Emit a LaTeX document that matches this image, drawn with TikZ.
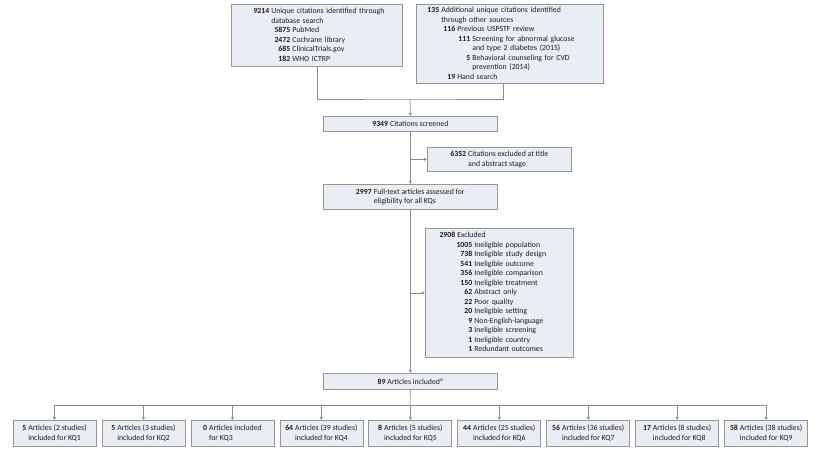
\documentclass[tikz,border=0pt]{standalone}
\usepackage{fontspec}
\setmainfont{Carlito}
\usetikzlibrary{arrows.meta}
\definecolor{boxfill}{RGB}{232,238,243}
\definecolor{boxline}{RGB}{150,150,150}
\definecolor{conline}{RGB}{140,140,140}
\definecolor{txt}{RGB}{30,28,29}
\newcommand{\nm}[1]{\textbf{#1}}
\newcommand{\lvl}[3]{\makebox[#1][r]{\nm{#2}}\hspace{2pt}#3}
\newcommand{\twol}[3]{\begin{tabular}{@{}r@{\hspace{2pt}}l@{}}\nm{#1} & #2\\ & #3\end{tabular}}
\begin{document}
\begin{tikzpicture}[x=1pt,y=-1pt,
  box/.style={draw=boxline, fill=boxfill, line width=0.7pt, inner sep=0pt, anchor=north west,
    text=txt, font=\fontsize{7.8}{9.5}\selectfont},
  lbox/.style={box, align=left},
  cbox/.style={box, align=center},
  conn/.style={draw=conline, line width=0.7pt},
  arr/.style={conn, -{Triangle[length=2.8pt,width=2.6pt]}}]
\useasboundingbox (0,0) rectangle (824,455);
% top boxes
\node[lbox, minimum width=171pt, minimum height=62pt, text width=171pt] (db) at (231,4)
  {\begin{tabular}{@{}l@{}}
  \lvl{38pt}{9214}{Unique citations identified through}\\
  \lvl{38pt}{}{database search}\\
  \lvl{59pt}{5875}{PubMed}\\
  \lvl{59pt}{2472}{Cochrane library}\\
  \lvl{59pt}{685}{ClinicalTrials.gov}\\
  \lvl{59pt}{182}{WHO ICTRP}
  \end{tabular}};
\node[lbox, minimum width=187pt, minimum height=79pt, text width=187pt] (other) at (416,4)
  {\begin{tabular}{@{}l@{}}
  \lvl{23pt}{135}{Additional unique citations identified}\\
  \lvl{23pt}{}{through other sources}\\
  \lvl{39pt}{116}{Previous USPSTF review}\\
  \lvl{54pt}{111}{Screening for abnormal glucose}\\
  \lvl{54pt}{}{and type 2 diabetes (2015)}\\
  \lvl{54pt}{5}{Behavioral counseling for CVD}\\
  \lvl{54pt}{}{prevention (2014)}\\
  \lvl{39pt}{19}{Hand search}
  \end{tabular}};
\node[cbox, minimum width=174pt, minimum height=15pt] (screened) at (323,116)
  {\nm{9349}\hspace{2pt}Citations screened};
\node[cbox, minimum width=144pt, minimum height=24pt] (excl1) at (427,147)
  {\twol{6352}{Citations excluded at title}{and abstract stage}};
\node[cbox, minimum width=174pt, minimum height=25pt] (fulltext) at (323,184)
  {\twol{2997}{Full-text articles assessed for}{eligibility for all KQs}};
\node[lbox, minimum width=148pt, minimum height=129pt, text width=148pt] (excl2) at (425,228)
  {\begin{tabular}{@{}l@{}}
  \lvl{30pt}{2908}{Excluded}\\
  \lvl{47pt}{1005}{Ineligible population}\\
  \lvl{47pt}{738}{Ineligible study design}\\
  \lvl{47pt}{541}{Ineligible outcome}\\
  \lvl{47pt}{356}{Ineligible comparison}\\
  \lvl{47pt}{150}{Ineligible treatment}\\
  \lvl{47pt}{62}{Abstract only}\\
  \lvl{47pt}{22}{Poor quality}\\
  \lvl{47pt}{20}{Ineligible setting}\\
  \lvl{47pt}{9}{Non-English-language}\\
  \lvl{47pt}{3}{Ineligible screening}\\
  \lvl{47pt}{1}{Ineligible country}\\
  \lvl{47pt}{1}{Redundant outcomes}
  \end{tabular}};
\node[cbox, minimum width=174pt, minimum height=16pt] (included) at (323,373)
  {\nm{89}\hspace{2pt}Articles included\textsuperscript{a}};
% bottom boxes
\foreach \i/\n/\a/\b in {1/5/Articles (2 studies)/included for KQ1,
                         2/5/Articles (3 studies)/included for KQ2,
                         3/0/Articles included/for KQ3,
                         4/64/Articles (39 studies)/included for KQ4,
                         5/8/Articles (5 studies)/included for KQ5,
                         6/44/Articles (25 studies)/included for KQ6,
                         7/56/Articles (36 studies)/included for KQ7,
                         8/17/Articles (8 studies)/included for KQ8,
                         9/58/Articles (38 studies)/included for KQ9}{
  \node[cbox, anchor=north, minimum width=83pt, minimum height=26pt] (kq\i) at ({54.5+88.95*(\i-1)},420)
    {\twol{\n}{\a}{\b}};
}
% connectors
\coordinate (jn) at (410,99);
\coordinate (hb) at (410,405);
\draw[conn] (db.south) |- (jn) -| ([xshift=-6.5pt]other.south);
\draw[arr] (jn) -- (screened.north);
\draw[arr] (screened.south) -- (fulltext.north);
\draw[arr] (screened.south |- excl1.west) -- (excl1.west);
\draw[arr] (fulltext.south) -- (included.north);
\draw[arr] (fulltext.south |- excl2.west) -- (excl2.west);
\draw[conn] (included.south) -- (hb);
\draw[conn] (kq1.north |- hb) -- (kq9.north |- hb);
\foreach \i in {1,...,9}{
  \draw[arr] (kq\i.north |- hb) -- (kq\i.north);
}
\end{tikzpicture}
\end{document}
